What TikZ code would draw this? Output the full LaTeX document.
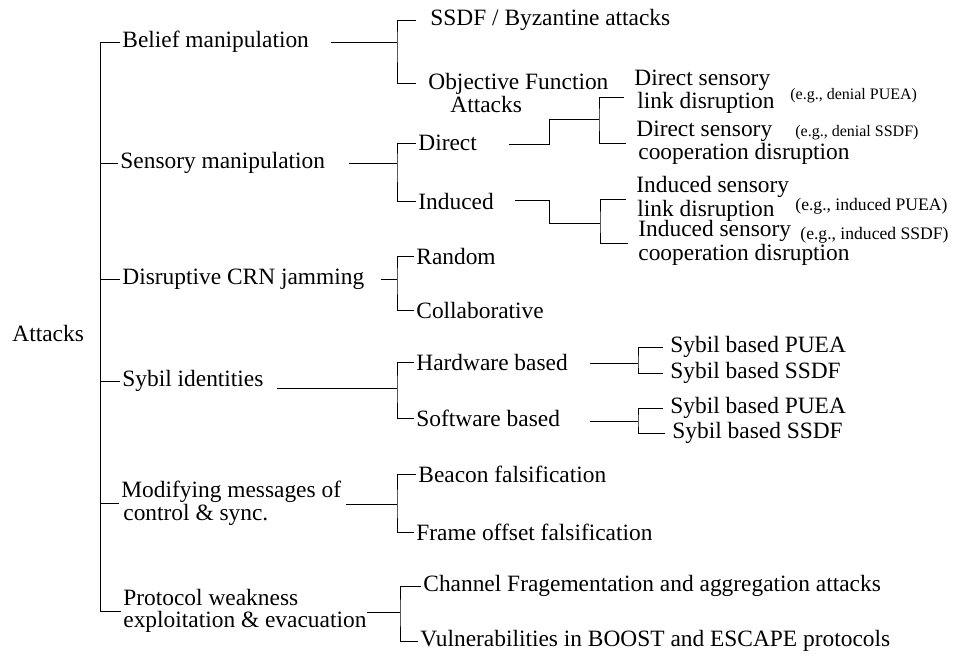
\documentclass[tikz,border=0pt]{standalone}
\usepackage{fontspec}
\setmainfont{Liberation Serif}

\begin{document}
\begin{tikzpicture}[x=0.5pt,y=-0.5pt,
    item/.style={anchor=west, inner xsep=1pt, inner ysep=0pt,
                 font=\fontsize{11.7}{10}\selectfont},
    twoline/.style={item, align=left},
    note/.style={anchor=west, inner xsep=1pt, inner ysep=0pt}]
    \useasboundingbox (0,0) rectangle (955,655);

    % root and first level
    \node[item] (att) at (10,333) {Attacks};
    \coordinate (sp) at (100,0);
    \node[item] (bel) at (120,42)  {Belief manipulation};
    \node[item] (sen) at (118,163) {Sensory manipulation};
    \node[item] (jam) at (120,279) {Disruptive CRN jamming};
    \node[item] (syb) at (120,381) {Sybil identities};
    \node[twoline] (mod) at (119,503) {Modifying messages of\\\hspace*{1pt}control \& sync.};
    \node[twoline, font=\fontsize{11.7}{11}\selectfont] (pro) at (121,611) {Protocol weakness\\exploitation \& evacuation};

    % second level
    \node[item] (ssdf) at (428,20) {SSDF / Byzantine attacks};
    \node[twoline] (obj) at (426,93) {Objective Function\\\hspace*{11pt}Attacks};
    \node[item] (dir) at (416,143) {Direct};
    \node[item] (ind) at (416,201) {Induced};
    \node[item] (ran) at (414,256) {Random};
    \node[item] (col) at (414,310) {Collaborative};
    \node[item] (hw)  at (414,362) {Hardware based};
    \node[item] (sw)  at (414,418) {Software based};
    \node[item] (bea) at (416,474) {Beacon falsification};
    \node[item] (fra) at (414,532) {Frame offset falsification};
    \node[item] (cha) at (421,586) {Channel Fragementation and aggregation attacks};
    \node[item] (vul) at (418,641) {Vulnerabilities in BOOST and ESCAPE protocols};

    % third level
    \node[twoline] (dsl) at (632,92)  {Direct sensory\\\hspace*{1.5pt}link disruption};
    \node[twoline] (dsc) at (634,143) {Direct sensory\\\hspace*{1pt}cooperation disruption};
    \node[twoline] (isl) at (634,199) {Induced sensory\\\hspace*{0.5pt}link disruption};
    \node[twoline] (isc) at (636,243) {Induced sensory\\cooperation disruption};
    \node[item] (hwp) at (668,347) {Sybil based PUEA};
    \node[item] (hws) at (668,373) {Sybil based SSDF};
    \node[item] (swp) at (668,408) {Sybil based PUEA};
    \node[item] (sws) at (670,433) {Sybil based SSDF};

    % examples
    \node[note, font=\fontsize{8}{9}\selectfont] (ex1) at (788,96)  {(e.g., denial PUEA)};
    \node[note, font=\fontsize{8}{9}\selectfont] (ex2) at (793,133) {(e.g., denial SSDF)};
    \node[note, font=\fontsize{8.8}{9}\selectfont] (ex3) at (793,206) {(e.g., induced PUEA)};
    \node[note, font=\fontsize{8.8}{9}\selectfont] (ex4) at (798,235) {(e.g., induced SSDF)};

    % spine
    \draw (bel.west -| sp) -- (pro.west -| sp);
    \foreach \n in {bel,sen,jam,syb,mod,pro}
        \draw (\n.west -| sp) -- (\n.west);

    % brackets
    \coordinate (bel-o) at (331,42);  \coordinate (bel-j) at (397,42);
    \coordinate (sen-o) at (349,163); \coordinate (sen-j) at (397,163);
    \coordinate (jam-o) at (381,279); \coordinate (jam-j) at (397,279);
    \coordinate (syb-o) at (277,388); \coordinate (syb-j) at (397,388);
    \coordinate (mod-o) at (346,504); \coordinate (mod-j) at (397,504);
    \coordinate (pro-o) at (367,612); \coordinate (pro-j) at (400,612);
    \coordinate (hw-o) at (590,363);  \coordinate (hw-j) at (638,363);
    \coordinate (sw-o) at (590,421);  \coordinate (sw-j) at (638,421);

    \draw (bel-o) -- (bel-j);
    \draw[shorten <=6pt, shorten >=5pt] (ssdf.west) -| (bel-j) |- ([yshift=5pt]obj.west);
    \foreach \p/\a/\b in {sen/dir/ind, jam/ran/col, syb/hw/sw, mod/bea/fra, pro/cha/vul}
    {
        \draw (\p-o) -- (\p-j);
        \draw (\a.west) -| (\p-j) |- (\b.west);
    }
    \foreach \p/\a/\b in {hw/hwp/hws, sw/swp/sws}
    {
        \draw (\p-o) -- (\p-j);
        \draw[shorten <=2.5pt, shorten >=2.5pt] (\a.west) -| (\p-j) |- (\b.west);
    }

    % steps to third level
    \coordinate (dir-o) at (509,144); \coordinate (dir-j) at (599,119);
    \coordinate (ind-o) at (515,200); \coordinate (ind-j) at (600,223);
    \draw (dir-o) -- ++(40,0) |- (dir-j);
    \draw (ind-o) -- ++(34,0) |- (ind-j);
    \draw[shorten <=4pt, shorten >=4pt] ([yshift=-2.5pt]dsl.west) -| (dir-j) |- (dsc.west);
    \draw[shorten <=4pt, shorten >=4pt] (isl.west) -| (ind-j) |- (isc.west);
\end{tikzpicture}
\end{document}
